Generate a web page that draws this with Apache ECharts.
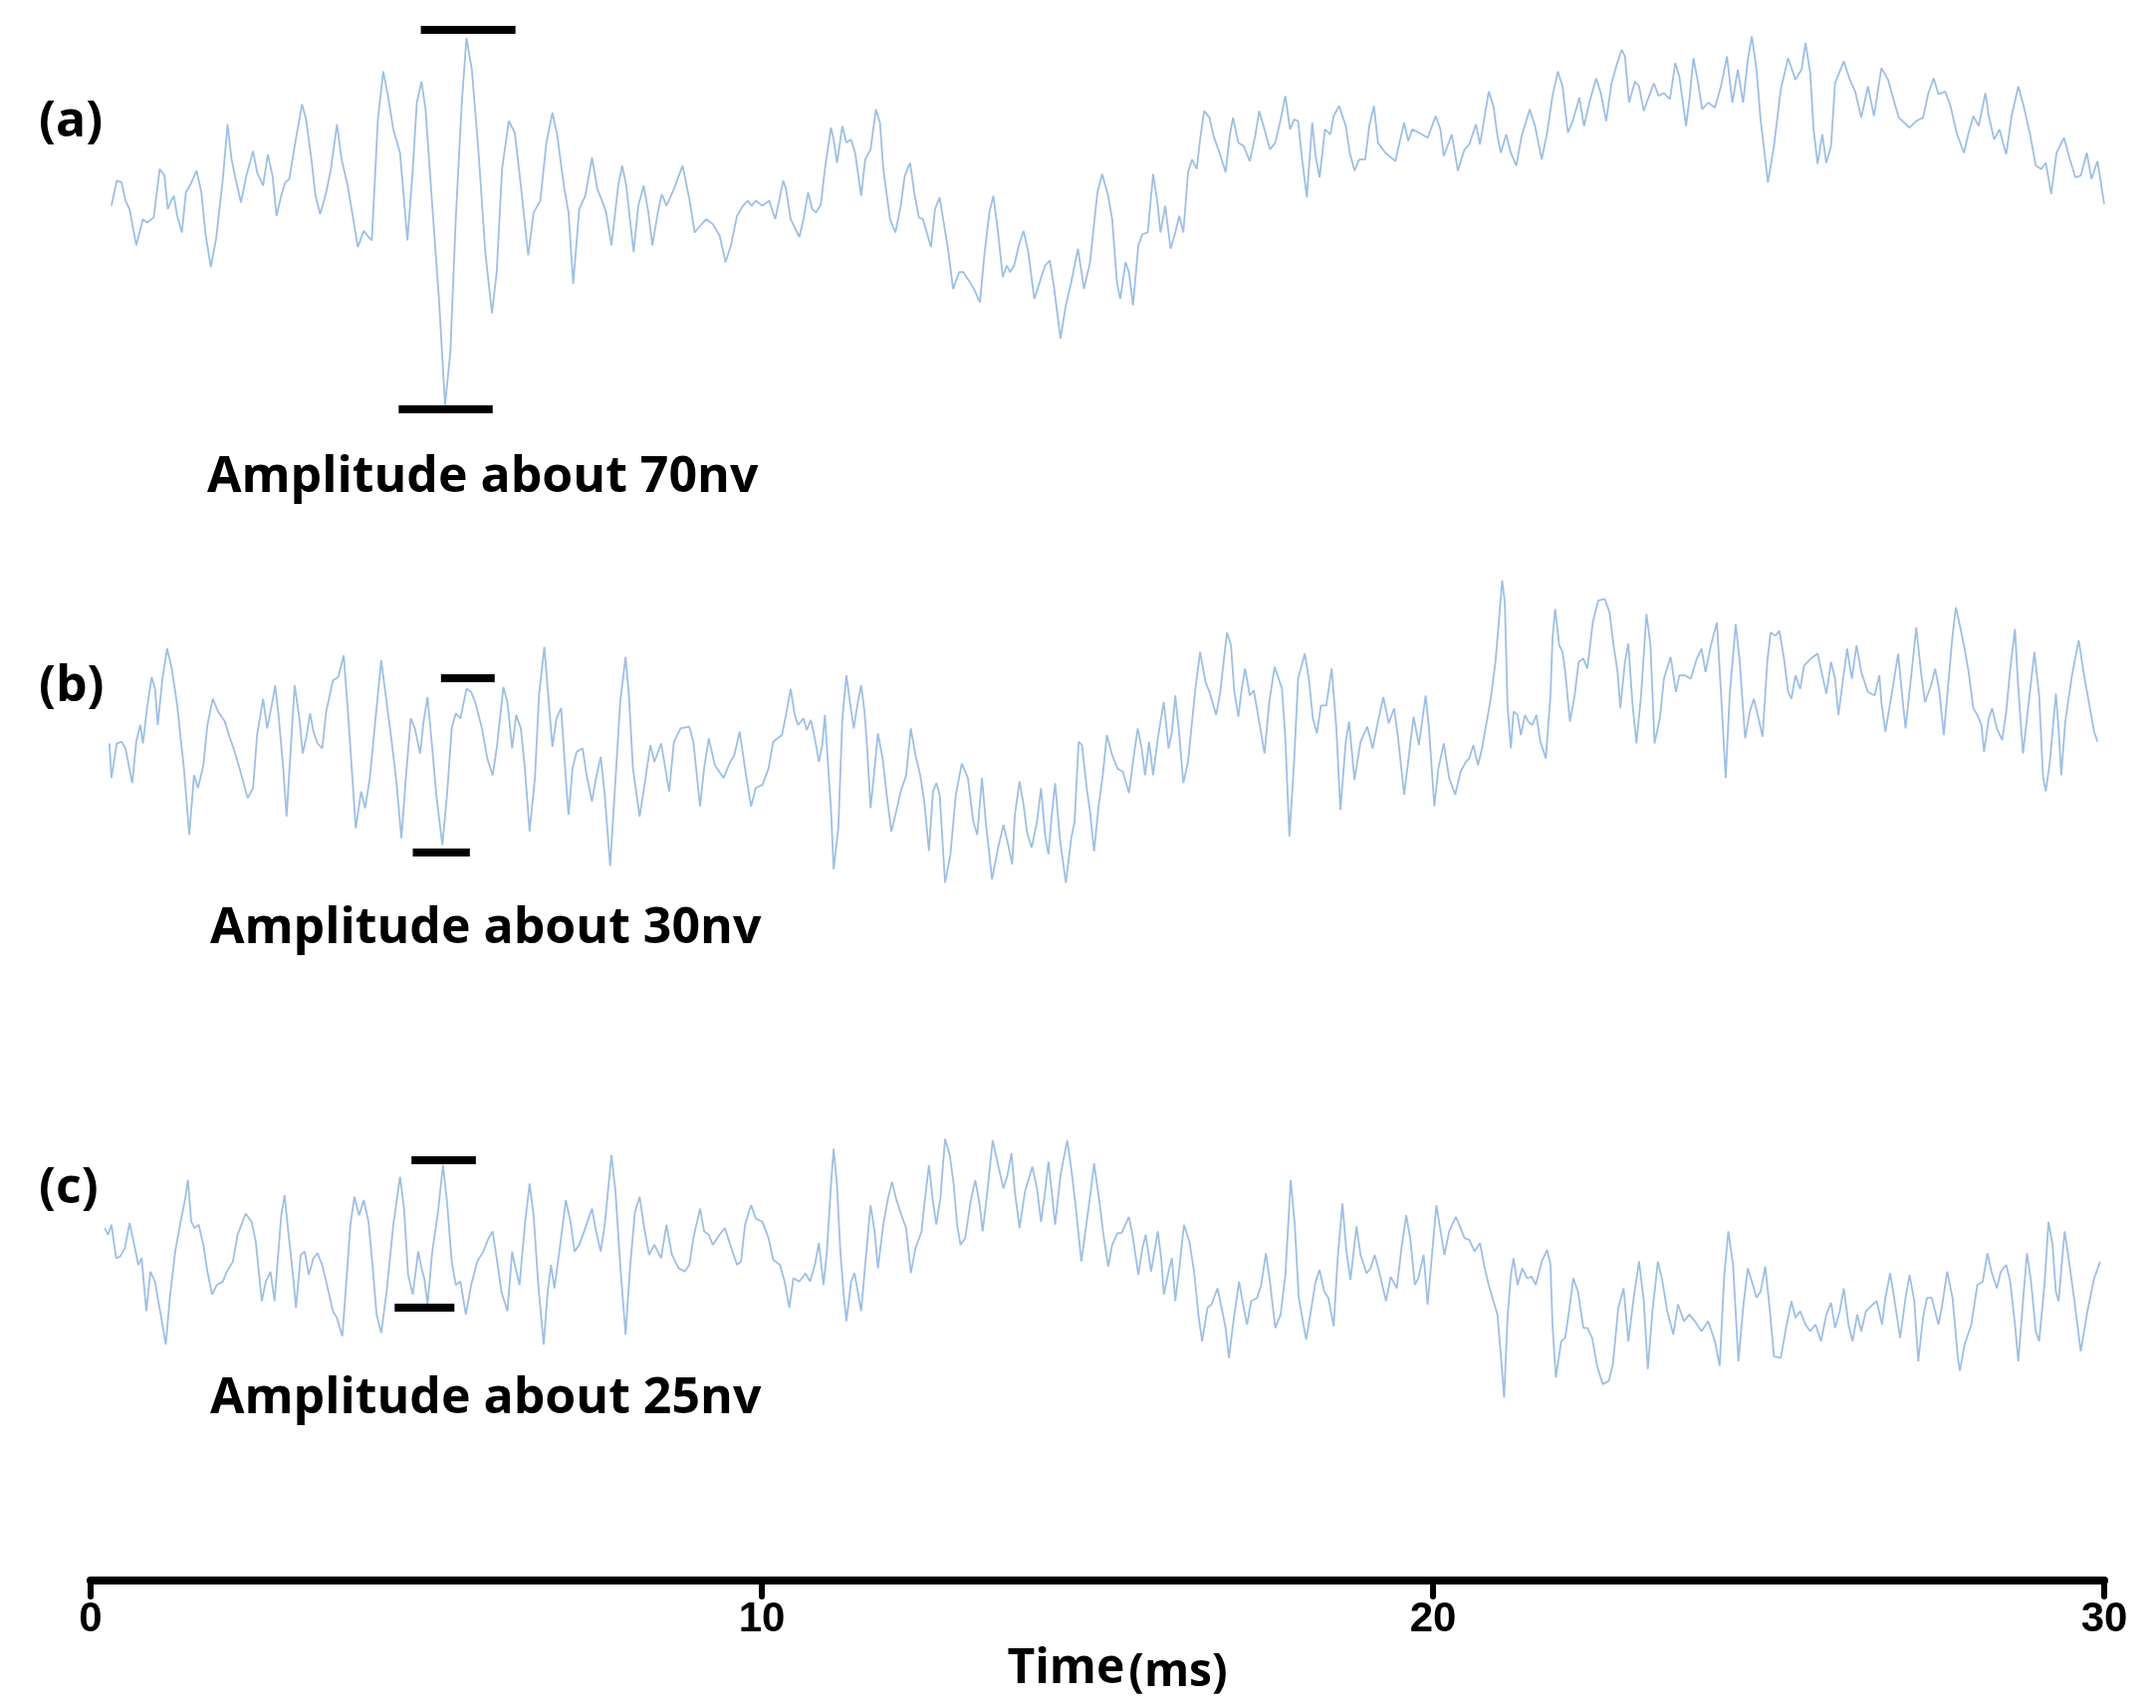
<!DOCTYPE html>
<html>
<head>
<meta charset="utf-8">
<title>Amplitude traces</title>
<script src="https://cdn.jsdelivr.net/npm/echarts@6/dist/echarts.min.js"></script>
<style>
  html, body { margin: 0; padding: 0; background: #fff; }
  #main { width: 2165px; height: 1715px; }
</style>
</head>
<body>
<div id="main"></div>
<script>
// 时间轴刻度 (ms)
var timeTicks = [0, 10, 20, 30];

// 三条曲线的读数: [时间 ms, 幅值 nV]，幅值相对各自基线
var traceA = [
[0.31,-1.2],[0.39,3.3],[0.46,3.0],[0.52,-0.3],[0.58,-1.8],[0.68,-8.3],[0.78,-3.6],[0.84,-4.2],[0.94,-3.3],[1.03,5.4],[1.10,4.2],[1.15,-1.8],[1.20,-0.3],[1.24,0.6],[1.29,-3.0],[1.36,-6.0],[1.42,1.2],[1.49,2.7],[1.58,5.1],[1.65,1.2],[1.71,-6.0],[1.79,-12.2],[1.87,-7.1],[1.97,3.6],[2.04,13.4],[2.10,7.1],[2.16,3.6],[2.24,-0.6],[2.32,4.2],[2.42,8.6],[2.48,4.8],[2.57,2.4],[2.64,8.0],[2.71,4.2],[2.77,-3.0],[2.84,0.6],[2.90,3.0],[2.96,3.6],[3.04,9.5],[3.15,17.0],[3.21,14.3],[3.29,7.1],[3.35,0.6],[3.42,-2.7],[3.51,1.2],[3.58,5.4],[3.67,13.4],[3.74,7.1],[3.83,2.4],[3.93,-4.8],[3.98,-8.6],[4.07,-5.7],[4.12,-6.5],[4.19,-7.4],[4.28,14.3],[4.36,22.9],[4.43,18.5],[4.51,12.5],[4.61,8.3],[4.72,-7.4],[4.80,5.4],[4.86,17.3],[4.93,21.1],[4.99,16.1],[5.09,-1.2],[5.19,-17.9],[5.28,-36.9],[5.36,-27.4],[5.44,-3.6],[5.53,17.3],[5.60,28.9],[5.68,23.2],[5.78,8.3],[5.88,-9.5],[5.98,-20.5],[6.05,-13.1],[6.13,5.4],[6.23,14.0],[6.32,11.9],[6.41,2.4],[6.52,-10.1],[6.60,-2.4],[6.70,-0.3],[6.79,10.1],[6.88,15.5],[6.95,11.6],[7.05,2.4],[7.12,-2.4],[7.19,-15.2],[7.28,-1.8],[7.37,0.6],[7.47,7.4],[7.55,1.8],[7.62,-0.3],[7.68,-2.4],[7.76,-8.3],[7.86,2.4],[7.92,6.0],[7.98,2.4],[8.09,-9.5],[8.16,-1.2],[8.24,2.4],[8.31,-2.4],[8.37,-8.3],[8.45,-2.4],[8.51,0.9],[8.58,-1.2],[8.69,1.8],[8.82,6.0],[8.92,0.0],[9.00,-6.0],[9.08,-4.8],[9.17,-3.6],[9.27,-4.5],[9.37,-6.5],[9.46,-11.3],[9.54,-8.3],[9.63,-3.0],[9.72,-1.2],[9.79,-0.3],[9.85,-1.2],[9.91,-0.3],[10.01,-1.2],[10.11,-0.3],[10.20,-3.6],
[10.32,3.3],[10.36,1.8],[10.43,-3.6],[10.56,-6.8],[10.62,-3.6],[10.69,1.2],[10.75,-1.8],[10.81,-2.4],[10.88,-0.9],[10.94,5.4],[11.03,12.8],[11.07,10.7],[11.12,6.5],[11.20,13.1],[11.26,10.1],[11.33,10.7],[11.39,8.3],[11.48,0.6],[11.54,7.1],[11.62,8.9],[11.70,16.1],[11.76,13.7],[11.81,5.4],[11.91,-3.6],[11.99,-6.0],[12.07,-1.2],[12.13,4.2],[12.21,6.5],[12.27,1.2],[12.34,-3.3],[12.40,-3.6],[12.52,-8.6],[12.58,-1.8],[12.65,0.3],[12.71,-4.2],[12.78,-9.5],[12.85,-16.1],[12.94,-13.1],[13.00,-13.1],[13.10,-14.9],[13.16,-16.1],[13.25,-18.5],[13.32,-9.5],[13.39,-2.4],[13.45,0.6],[13.52,-6.0],[13.59,-14.0],[13.65,-11.9],[13.70,-13.1],[13.76,-11.9],[13.83,-8.3],[13.90,-5.7],[13.97,-9.5],[14.06,-17.9],[14.14,-14.9],[14.22,-11.9],[14.29,-11.0],[14.35,-15.5],[14.45,-25.0],[14.53,-19.0],[14.61,-14.9],[14.71,-8.9],[14.80,-16.1],[14.89,-11.3],[15.00,1.2],[15.07,4.5],[15.16,0.6],[15.22,-3.6],[15.29,-14.9],[15.34,-17.9],[15.42,-11.3],[15.47,-13.1],[15.53,-19.0],[15.61,-8.3],[15.67,-6.3],[15.75,-6.0],[15.83,4.5],[15.90,-1.2],[15.94,-6.0],[16.01,-1.2],[16.09,-8.9],[16.16,-6.0],[16.22,-3.0],[16.28,-6.0],[16.35,4.8],[16.41,7.1],[16.48,5.4],[16.53,10.7],[16.59,15.8],[16.67,14.6],[16.73,11.3],[16.82,8.3],[16.91,4.8],[16.97,11.3],[17.02,14.6],[17.10,10.1],[17.18,9.5],[17.27,6.8],[17.35,11.3],[17.41,15.8],[17.49,12.5],[17.57,8.9],[17.65,10.1],[17.73,14.3],[17.80,18.5],[17.87,12.5],[17.93,14.3],[17.99,14.0],[18.05,7.1],[18.12,0.3],[18.20,13.7],[18.25,7.7],[18.31,3.9],[18.39,12.5],[18.47,11.6],[18.52,14.9],[18.60,16.7],[18.70,13.1],[18.76,8.3],[18.83,5.1],[18.90,7.1],[18.99,7.1],[19.05,13.1],[19.12,16.7],[19.18,10.1],[19.29,8.3],[19.44,6.8],[19.50,10.1],[19.57,13.7],[19.63,10.4],[19.69,12.5],[19.79,11.9],[19.92,11.0],[20.04,14.9],[20.11,12.5],[20.16,7.7],
[20.28,11.6],[20.37,5.1],[20.47,8.9],[20.54,9.8],[20.64,13.4],[20.70,9.8],[20.77,14.9],[20.83,19.3],[20.90,16.7],[20.96,11.3],[21.01,8.3],[21.09,11.6],[21.16,8.3],[21.24,6.0],[21.32,11.3],[21.44,16.1],[21.52,13.1],[21.62,7.1],[21.70,11.9],[21.78,18.5],[21.86,22.9],[21.93,20.2],[22.01,11.9],[22.09,14.3],[22.18,18.2],[22.25,13.1],[22.33,17.3],[22.43,21.7],[22.50,19.0],[22.58,14.0],[22.66,20.8],[22.73,23.8],[22.81,26.8],[22.86,25.6],[22.92,17.3],[23.01,21.1],[23.07,20.2],[23.14,15.8],[23.22,18.5],[23.29,20.8],[23.36,18.5],[23.44,19.0],[23.53,17.9],[23.61,24.4],[23.67,22.0],[23.77,13.1],[23.82,17.9],[23.88,25.3],[23.95,20.8],[24.01,16.1],[24.10,17.3],[24.20,16.4],[24.29,20.2],[24.38,25.6],[24.46,17.3],[24.54,23.2],[24.62,17.3],[24.69,25.0],[24.75,29.2],[24.82,23.2],[24.88,14.3],[24.99,3.0],[25.08,9.5],[25.18,19.6],[25.29,25.3],[25.40,21.4],[25.49,23.2],[25.55,28.0],[25.62,22.6],[25.67,12.5],[25.73,6.3],[25.80,11.6],[25.86,6.5],[25.93,9.5],[25.99,20.8],[26.12,24.7],[26.21,21.4],[26.29,19.3],[26.38,14.6],[26.48,20.2],[26.57,14.9],[26.68,23.5],[26.78,21.4],[26.86,17.9],[26.94,14.6],[27.10,12.8],[27.20,14.0],[27.30,14.6],[27.38,19.0],[27.46,21.7],[27.53,18.8],[27.63,19.3],[27.71,16.7],[27.80,11.9],[27.91,8.3],[27.98,11.9],[28.05,14.9],[28.13,13.1],[28.23,19.0],[28.28,14.9],[28.36,10.7],[28.44,12.5],[28.54,8.0],[28.62,14.9],[28.72,20.2],[28.80,16.7],[28.90,11.3],[28.98,6.0],[29.06,5.4],[29.13,6.5],[29.21,0.9],[29.29,8.3],[29.40,11.0],[29.49,7.1],[29.57,3.9],[29.65,4.2],[29.74,8.3],[29.81,3.6],[29.90,6.8],[30.00,-0.9]
];

var traceB = [
[0.28,-0.3],[0.31,-6.5],[0.39,-0.3],[0.46,0.0],[0.52,-1.2],[0.62,-7.4],[0.68,0.0],[0.74,3.0],[0.78,-0.3],[0.84,6.0],[0.91,11.6],[0.96,9.5],[1.00,3.0],[1.07,11.3],[1.14,16.7],[1.21,13.1],[1.29,6.5],[1.39,-4.8],[1.47,-16.7],[1.54,-6.0],[1.60,-8.3],[1.68,-4.2],[1.74,3.0],[1.82,7.7],[1.90,5.4],[2.00,3.6],[2.06,1.2],[2.13,-1.2],[2.22,-4.8],[2.34,-10.1],[2.42,-8.3],[2.48,1.2],[2.57,7.7],[2.63,2.4],[2.69,6.0],[2.75,10.1],[2.80,4.8],[2.87,-4.8],[2.92,-13.4],[3.00,2.4],[3.04,10.1],[3.11,4.2],[3.16,-2.1],[3.21,0.6],[3.27,5.1],[3.32,1.8],[3.38,-0.3],[3.45,-1.2],[3.51,5.4],[3.61,11.0],[3.69,11.6],[3.77,15.5],[3.83,6.0],[3.90,-6.5],[3.95,-15.5],[4.03,-8.9],[4.09,-11.9],[4.16,-6.5],[4.25,4.8],[4.33,14.6],[4.39,8.9],[4.48,0.6],[4.56,-7.7],[4.63,-17.3],[4.70,-6.0],[4.77,4.2],[4.83,2.4],[4.91,-2.1],[4.96,3.6],[5.02,8.0],[5.09,-1.2],[5.15,-9.5],[5.24,-18.5],[5.31,-9.5],[5.38,2.4],[5.44,5.1],[5.51,4.2],[5.60,9.5],[5.67,8.9],[5.73,7.1],[5.83,2.4],[5.91,-3.0],[5.99,-6.0],[6.05,-1.2],[6.15,9.8],[6.21,7.1],[6.28,-1.2],[6.34,4.8],[6.41,2.4],[6.47,-4.8],[6.54,-16.1],[6.62,-6.5],[6.68,8.3],[6.76,17.0],[6.83,6.5],[6.88,-0.9],[6.94,4.2],[7.01,6.0],[7.07,-4.8],[7.12,-13.1],[7.18,-4.8],[7.24,-1.8],[7.33,-1.2],[7.39,-6.0],[7.47,-10.7],[7.53,-6.5],[7.60,-2.7],[7.66,-9.5],[7.74,-22.3],[7.80,-10.7],[7.89,7.1],[7.97,15.2],[8.02,8.3],[8.08,-4.8],[8.18,-13.4],[8.26,-7.1],[8.34,-0.6],[8.40,-3.6],[8.50,-0.3],[8.62,-8.9],[8.69,0.0],[8.79,2.4],[8.92,2.7],[8.98,0.0],[9.08,-11.6],[9.14,-4.8],[9.21,0.6],[9.30,-4.2],[9.43,-6.5],[9.53,-3.6],[9.59,-2.4],[9.67,1.8],[9.75,-4.8],[9.84,-11.6],[9.91,-8.3],[10.01,-7.7],[10.10,-4.8],[10.17,0.0],
[10.30,1.2],[10.36,4.8],[10.43,9.5],[10.49,4.8],[10.54,3.0],[10.62,4.2],[10.67,2.1],[10.73,3.9],[10.79,0.6],[10.85,-3.6],[10.90,-0.6],[10.94,4.8],[10.99,-4.8],[11.03,-11.9],[11.07,-22.9],[11.14,-15.5],[11.20,4.2],[11.26,11.9],[11.32,6.5],[11.37,2.4],[11.43,7.1],[11.48,10.1],[11.53,5.4],[11.57,-1.2],[11.62,-11.9],[11.67,-6.0],[11.73,1.5],[11.80,-3.0],[11.86,-9.5],[11.93,-16.1],[11.99,-13.1],[12.07,-8.9],[12.15,-6.0],[12.22,2.4],[12.29,-2.4],[12.36,-6.0],[12.42,-10.7],[12.49,-19.6],[12.55,-8.9],[12.60,-7.4],[12.65,-9.5],[12.73,-25.3],[12.81,-20.2],[12.89,-9.5],[12.98,-3.9],[13.07,-6.5],[13.15,-14.3],[13.21,-16.7],[13.28,-6.5],[13.34,-14.9],[13.39,-20.2],[13.43,-24.7],[13.52,-19.0],[13.60,-14.9],[13.68,-19.0],[13.73,-22.0],[13.77,-13.1],[13.84,-7.1],[13.90,-11.3],[13.95,-16.1],[14.02,-19.0],[14.10,-14.3],[14.16,-8.3],[14.22,-16.7],[14.27,-20.2],[14.32,-13.1],[14.37,-7.4],[14.44,-17.3],[14.53,-25.3],[14.61,-17.3],[14.66,-14.3],[14.72,0.0],[14.77,-0.6],[14.84,-8.3],[14.89,-12.5],[14.95,-19.6],[15.02,-11.3],[15.08,-6.0],[15.14,1.2],[15.22,-2.4],[15.30,-4.8],[15.38,-5.4],[15.47,-9.2],[15.53,-3.6],[15.60,2.4],[15.66,-1.2],[15.71,-6.0],[15.77,0.0],[15.83,-6.0],[15.90,0.6],[15.94,3.6],[15.99,7.1],[16.06,-1.2],[16.11,1.8],[16.16,8.3],[16.22,1.2],[16.28,-7.4],[16.35,-3.6],[16.41,3.6],[16.46,9.5],[16.53,16.1],[16.61,10.7],[16.67,8.9],[16.77,4.8],[16.83,8.9],[16.88,14.3],[16.93,19.6],[16.99,17.3],[17.04,8.9],[17.10,4.5],[17.15,9.5],[17.20,13.1],[17.27,8.3],[17.33,9.2],[17.41,3.6],[17.49,-2.1],[17.56,7.1],[17.64,13.4],[17.70,11.3],[17.75,9.5],[17.80,0.6],[17.86,-17.0],[17.93,-3.6],[17.99,11.3],[18.09,15.8],[18.15,11.3],[18.21,4.2],[18.27,1.5],[18.33,6.5],[18.41,6.5],[18.49,13.1],[18.56,2.4],[18.62,-12.2],[18.70,0.0],[18.75,3.6],[18.83,-6.8],[18.92,0.0],[19.02,2.7],[19.10,-1.2],[19.18,3.6],[19.26,8.0],[19.34,3.3],[19.42,6.0],[19.48,0.6],[19.57,-9.5],[19.63,-3.6],[19.71,4.5],[19.79,-0.6],[19.89,8.3],[19.94,2.4],[20.02,-11.6],[20.08,-4.8],[20.16,-0.3],
[20.24,-6.5],[20.33,-9.5],[20.41,-5.4],[20.49,-3.6],[20.54,-3.0],[20.60,-0.6],[20.67,-4.2],[20.73,-1.2],[20.80,3.6],[20.86,7.7],[20.93,14.3],[20.98,21.4],[21.03,28.9],[21.07,25.0],[21.11,6.5],[21.16,-1.2],[21.20,5.4],[21.26,4.8],[21.31,1.2],[21.37,4.8],[21.42,3.6],[21.48,3.0],[21.54,4.8],[21.60,0.0],[21.68,-3.0],[21.75,8.3],[21.78,18.5],[21.82,23.8],[21.88,17.3],[21.93,16.1],[21.97,12.5],[22.04,3.6],[22.11,8.3],[22.17,14.3],[22.24,14.9],[22.30,13.1],[22.38,21.4],[22.46,25.3],[22.56,25.6],[22.63,23.2],[22.69,17.3],[22.75,12.5],[22.79,6.0],[22.86,14.3],[22.91,17.6],[22.97,7.1],[23.03,-0.3],[23.10,8.3],[23.18,22.9],[23.24,17.3],[23.30,-0.3],[23.38,4.2],[23.44,11.3],[23.54,15.2],[23.62,8.9],[23.67,11.9],[23.75,11.9],[23.84,11.3],[23.93,14.9],[24.00,16.7],[24.06,12.5],[24.14,17.3],[24.23,21.4],[24.29,8.9],[24.36,-6.5],[24.42,8.3],[24.51,21.1],[24.57,14.3],[24.65,0.6],[24.72,5.4],[24.78,7.7],[24.85,4.2],[24.91,0.9],[24.98,14.3],[25.03,19.6],[25.10,19.0],[25.16,19.9],[25.23,14.9],[25.29,8.9],[25.34,7.7],[25.40,11.9],[25.47,9.5],[25.53,13.7],[25.63,14.9],[25.73,15.8],[25.80,11.9],[25.86,8.6],[25.93,14.3],[25.99,11.3],[26.04,4.8],[26.11,11.3],[26.17,16.7],[26.24,11.3],[26.31,17.3],[26.38,12.5],[26.48,8.9],[26.58,8.3],[26.65,11.9],[26.68,7.1],[26.74,1.8],[26.83,8.3],[26.93,15.8],[26.99,8.3],[27.04,2.4],[27.12,11.3],[27.20,20.5],[27.27,12.5],[27.33,7.1],[27.42,10.1],[27.48,13.1],[27.54,9.5],[27.61,1.2],[27.67,9.5],[27.74,19.0],[27.79,24.1],[27.85,20.8],[27.92,16.7],[27.98,12.5],[28.05,6.0],[28.11,4.8],[28.17,3.0],[28.21,-1.8],[28.28,4.2],[28.33,6.0],[28.40,2.4],[28.48,0.3],[28.54,5.4],[28.60,13.1],[28.67,20.2],[28.72,9.5],[28.79,-2.1],[28.87,6.5],[28.96,16.1],[29.03,8.3],[29.09,-6.5],[29.13,-8.9],[29.19,-3.6],[29.28,8.6],[29.32,2.4],[29.36,-6.0],[29.42,3.6],[29.52,11.9],[29.62,18.2],[29.70,11.9],[29.78,6.5],[29.85,1.8],[29.90,0.0]
];

var traceC = [
[0.21,5.4],[0.26,4.2],[0.31,6.0],[0.38,0.0],[0.44,0.3],[0.51,1.8],[0.58,6.3],[0.65,2.4],[0.71,-1.2],[0.76,0.0],[0.83,-9.5],[0.89,-2.4],[0.96,-4.2],[1.00,-7.1],[1.07,-11.9],[1.12,-15.5],[1.18,-7.1],[1.26,1.2],[1.34,6.5],[1.41,10.7],[1.45,14.0],[1.50,6.5],[1.55,5.4],[1.61,6.0],[1.68,2.4],[1.74,-2.4],[1.81,-6.5],[1.88,-4.8],[1.97,-4.2],[2.03,-2.4],[2.12,-0.6],[2.19,4.2],[2.31,8.0],[2.40,6.5],[2.46,3.0],[2.55,-7.7],[2.61,-4.2],[2.68,-2.4],[2.74,-7.7],[2.79,0.0],[2.84,7.7],[2.89,11.3],[2.95,4.2],[3.02,-3.6],[3.06,-8.9],[3.13,0.6],[3.19,1.2],[3.25,-3.0],[3.32,0.0],[3.38,0.9],[3.45,-1.2],[3.51,-4.2],[3.61,-9.5],[3.67,-10.7],[3.75,-14.0],[3.81,-4.2],[3.87,6.0],[3.93,11.0],[4.00,7.7],[4.07,10.4],[4.14,6.5],[4.20,-1.2],[4.26,-10.1],[4.33,-13.4],[4.41,-6.0],[4.51,6.0],[4.61,14.6],[4.67,8.9],[4.73,-3.0],[4.80,-6.5],[4.88,1.2],[4.93,-1.8],[4.97,-3.6],[5.02,-8.3],[5.09,1.2],[5.17,7.7],[5.25,16.7],[5.31,10.1],[5.38,-0.6],[5.44,-4.8],[5.51,-4.2],[5.59,-10.1],[5.67,-4.8],[5.76,-0.6],[5.85,1.2],[5.93,3.6],[5.99,4.8],[6.05,0.0],[6.12,-6.0],[6.21,-9.5],[6.28,1.2],[6.32,-1.2],[6.39,-4.8],[6.47,6.0],[6.54,13.4],[6.60,7.7],[6.67,-4.8],[6.75,-15.5],[6.81,-6.0],[6.86,-1.2],[6.91,-5.4],[6.99,1.8],[7.08,10.4],[7.15,6.5],[7.21,1.2],[7.28,2.4],[7.37,5.4],[7.47,8.9],[7.53,4.8],[7.60,1.2],[7.66,6.0],[7.76,18.5],[7.82,11.9],[7.89,-1.2],[7.97,-13.7],[8.04,-1.2],[8.11,8.3],[8.18,11.0],[8.24,6.0],[8.32,0.6],[8.40,2.4],[8.50,0.0],[8.58,6.0],[8.66,0.6],[8.76,-1.8],[8.85,-2.4],[8.92,-1.2],[8.98,3.6],[9.08,8.9],[9.14,4.8],[9.21,4.2],[9.27,2.4],[9.37,4.2],[9.45,5.4],[9.53,2.4],[9.63,-1.2],[9.69,-0.6],[9.75,6.0],[9.84,9.5],[9.91,7.1],[10.01,6.5],[10.10,3.6],[10.17,-0.3],
[10.27,-1.2],[10.34,-4.2],[10.41,-8.9],[10.47,-3.6],[10.56,-4.2],[10.65,-2.7],[10.72,-4.2],[10.79,-1.2],[10.85,2.7],[10.92,-4.8],[10.97,1.2],[11.03,13.1],[11.07,19.6],[11.12,13.1],[11.17,1.2],[11.22,-6.5],[11.26,-11.3],[11.33,-4.2],[11.38,-2.7],[11.43,-6.0],[11.48,-9.5],[11.54,-1.2],[11.62,9.5],[11.68,4.8],[11.73,-1.8],[11.81,6.0],[11.88,10.7],[11.94,13.7],[12.00,10.7],[12.08,7.7],[12.15,5.4],[12.22,-2.7],[12.29,1.8],[12.38,4.8],[12.42,9.5],[12.49,16.7],[12.55,10.1],[12.60,6.0],[12.66,10.7],[12.73,21.4],[12.80,18.5],[12.86,13.1],[12.91,6.0],[12.96,2.4],[13.03,3.6],[13.11,10.1],[13.18,14.0],[13.24,10.1],[13.29,4.8],[13.36,11.9],[13.44,21.1],[13.52,16.7],[13.60,12.5],[13.66,14.9],[13.72,18.8],[13.77,11.9],[13.84,5.4],[13.92,11.9],[14.03,16.4],[14.10,12.5],[14.16,6.5],[14.22,11.9],[14.27,17.3],[14.32,11.9],[14.37,6.0],[14.45,14.9],[14.55,21.1],[14.61,16.1],[14.68,8.9],[14.76,-0.6],[14.84,6.5],[14.90,11.9],[14.95,17.0],[15.03,10.1],[15.09,4.2],[15.16,-1.5],[15.22,2.4],[15.30,4.5],[15.36,4.5],[15.47,7.4],[15.53,3.6],[15.61,-3.0],[15.67,1.8],[15.72,4.2],[15.80,-2.4],[15.90,4.8],[15.95,0.0],[15.99,-6.5],[16.06,-2.4],[16.11,0.0],[16.16,-7.7],[16.22,-1.8],[16.29,6.0],[16.37,3.0],[16.44,-2.4],[16.51,-10.7],[16.56,-14.9],[16.64,-8.9],[16.70,-8.3],[16.79,-5.4],[16.86,-9.5],[16.91,-12.5],[16.96,-17.9],[17.02,-11.9],[17.11,-4.2],[17.17,-8.3],[17.23,-11.9],[17.29,-7.7],[17.38,-7.1],[17.44,-4.8],[17.51,0.9],[17.57,-4.2],[17.65,-12.5],[17.73,-10.1],[17.80,-3.0],[17.88,14.0],[17.94,6.0],[18.00,-7.1],[18.11,-14.6],[18.18,-9.5],[18.25,-4.2],[18.31,-2.1],[18.38,-6.0],[18.44,-7.1],[18.52,-12.2],[18.58,0.0],[18.65,9.8],[18.71,1.2],[18.77,-3.9],[18.86,5.7],[18.92,0.6],[19.01,-2.7],[19.07,-1.8],[19.13,0.6],[19.21,-3.0],[19.30,-7.7],[19.37,-3.3],[19.46,-5.4],[19.53,1.8],[19.60,7.7],[19.66,3.6],[19.73,-4.8],[19.78,-3.6],[19.86,0.6],[19.92,-8.3],[19.98,0.0],[20.05,9.5],
[20.17,0.6],[20.24,4.8],[20.34,7.4],[20.41,5.4],[20.47,3.6],[20.54,3.3],[20.62,1.2],[20.70,2.7],[20.77,-1.8],[20.83,-4.8],[20.90,-7.7],[20.96,-10.1],[21.01,-17.3],[21.06,-25.0],[21.11,-10.7],[21.16,-3.0],[21.20,0.0],[21.26,-4.8],[21.33,-1.8],[21.40,-3.6],[21.47,-3.3],[21.53,-4.8],[21.62,-0.6],[21.70,1.5],[21.75,-1.2],[21.78,-11.9],[21.83,-21.4],[21.91,-14.9],[21.97,-14.3],[22.04,-8.3],[22.09,-3.6],[22.16,-6.0],[22.24,-12.5],[22.30,-12.5],[22.37,-14.3],[22.45,-19.6],[22.53,-22.6],[22.62,-22.0],[22.68,-19.0],[22.76,-8.9],[22.84,-5.4],[22.91,-14.9],[22.99,-7.1],[23.07,-0.6],[23.14,-7.7],[23.20,-19.9],[23.27,-9.5],[23.35,-0.6],[23.41,-3.6],[23.49,-9.5],[23.58,-13.7],[23.65,-8.3],[23.74,-11.3],[23.82,-10.1],[23.90,-11.3],[24.00,-13.1],[24.10,-11.3],[24.20,-14.9],[24.27,-19.3],[24.34,-3.0],[24.40,4.8],[24.47,-1.2],[24.55,-18.5],[24.62,-8.9],[24.69,-1.8],[24.75,-4.2],[24.82,-7.1],[24.88,-6.0],[24.95,-1.5],[25.01,-8.3],[25.08,-17.6],[25.18,-17.9],[25.26,-12.5],[25.34,-7.7],[25.40,-10.7],[25.47,-9.5],[25.55,-11.9],[25.62,-13.1],[25.70,-11.9],[25.78,-14.9],[25.86,-10.1],[25.93,-8.0],[25.99,-12.5],[26.06,-9.5],[26.12,-5.4],[26.19,-11.9],[26.25,-14.9],[26.32,-10.1],[26.38,-13.1],[26.45,-9.5],[26.55,-8.3],[26.61,-7.7],[26.69,-11.9],[26.74,-7.1],[26.81,-2.7],[26.87,-7.1],[26.96,-14.3],[27.04,-7.1],[27.10,-3.0],[27.17,-7.7],[27.23,-18.5],[27.30,-10.7],[27.36,-7.1],[27.43,-7.1],[27.53,-11.9],[27.58,-8.9],[27.66,-2.4],[27.74,-7.1],[27.82,-17.9],[27.85,-20.2],[27.92,-15.5],[28.02,-11.9],[28.11,-4.8],[28.19,-4.2],[28.26,0.9],[28.32,-2.4],[28.40,-5.4],[28.46,-2.4],[28.54,-1.2],[28.60,-4.2],[28.67,-11.9],[28.72,-18.5],[28.79,-7.7],[28.85,0.9],[28.91,-4.2],[28.98,-13.1],[29.03,-14.9],[29.11,-4.8],[29.17,6.5],[29.23,2.4],[29.28,-6.0],[29.32,-7.7],[29.41,4.8],[29.47,0.0],[29.55,-7.1],[29.65,-16.7],[29.75,-9.5],[29.85,-3.6],[29.94,-0.6]
];

// 每条曲线在画布上的基线 (nV)
var traceBase = [247.7, 150.4, 57.8];
var traceTags = ['(a)', '(b)', '(c)'];
var ampText = ['Amplitude about 70nv', 'Amplitude about 30nv', 'Amplitude about 25nv'];

// 幅值标尺: [起始时间, 结束时间, 幅值]
var ampTop = [[4.92, 6.33, 30.3], [5.22, 6.02, 11.4], [4.78, 5.74, 17.6]];
var ampBottom = [[4.59, 5.99, -37.6], [4.80, 5.65, -19.8], [4.53, 5.42, -8.9]];

var allTraces = [traceA, traceB, traceC];

var myChart = echarts.init(document.getElementById('main'));

function buildSeries(idx) {
	var base = traceBase[idx];
	var barTop = ampTop[idx];
	var barBot = ampBottom[idx];
	var data_temp = allTraces[idx].map(function(p){ return [p[0], p[1] + base]; });
	return {
		name: traceTags[idx],
		type: 'line',
		data: data_temp,
		showSymbol: false,
		symbol: 'none',
		lineStyle: { color: '#9dbfe8', width: 1.8 },
		animation: false,
		markLine: {
			silent: true,
			animation: false,
			symbol: ['none', 'none'],
			label: { show: false },
			lineStyle: { color: '#000', width: 8, type: 'solid', cap: 'butt' },
			data: [
				[{ coord: [barTop[0], barTop[2] + base] }, { coord: [barTop[1], barTop[2] + base] }],
				[{ coord: [barBot[0], barBot[2] + base] }, { coord: [barBot[1], barBot[2] + base] }]
			]
		}
	};
}

var series_save = [];
for (var i = 0; i < allTraces.length; i++) {
	series_save.push(buildSeries(i));
}

// 文字标注
var labelFont = 'bold 50px "Open Sans", "Noto Sans", sans-serif';
var tagY = [123, 690, 1194];
var ampY = [480, 933, 1405];
var ampX = [208, 211, 211];
var graphic_save = [];
for (var j = 0; j < 3; j++) {
	graphic_save.push({
		type: 'text', x: 39, y: tagY[j],
		style: { text: traceTags[j], font: labelFont, fill: '#000', verticalAlign: 'middle' }
	});
	graphic_save.push({
		type: 'text', x: ampX[j], y: ampY[j],
		style: { text: ampText[j], font: labelFont, fill: '#000', verticalAlign: 'middle' }
	});
}

option = {
	backgroundColor: '#fff',
	animation: false,
	grid: { left: 91, right: 52, top: 0, bottom: 128 },
	xAxis: {
		type: 'value',
		min: timeTicks[0],
		max: timeTicks[timeTicks.length - 1],
		interval: 10,
		name: '{t|Time}{u|(ms)}',
		nameLocation: 'middle',
		nameGap: 58,
		nameTextStyle: {
			padding: [0, 0, 0, 40],
			rich: {
				t: { fontSize: 48, fontWeight: 'bold', color: '#000', fontFamily: '"Open Sans", sans-serif' },
				u: { fontSize: 46, fontWeight: 'bold', color: '#000', fontFamily: '"Open Sans", sans-serif', padding: [8, 0, 0, 4] }
			}
		},
		splitLine: { show: false },
		axisLine: { onZero: false, lineStyle: { color: '#000', width: 8, cap: 'round' } },
		axisTick: { show: true, length: 16, lineStyle: { color: '#000', width: 6, cap: 'round' } },
		axisLabel: {
			color: '#000', fontSize: 42, fontWeight: 'bold', margin: 18,
			fontFamily: '"Liberation Sans Narrow", "Liberation Sans", sans-serif'
		}
	},
	yAxis: { type: 'value', show: false, min: 0, max: 283.4 },
	graphic: graphic_save,
	series: series_save
};

myChart.setOption(option);
</script>
</body>
</html>
